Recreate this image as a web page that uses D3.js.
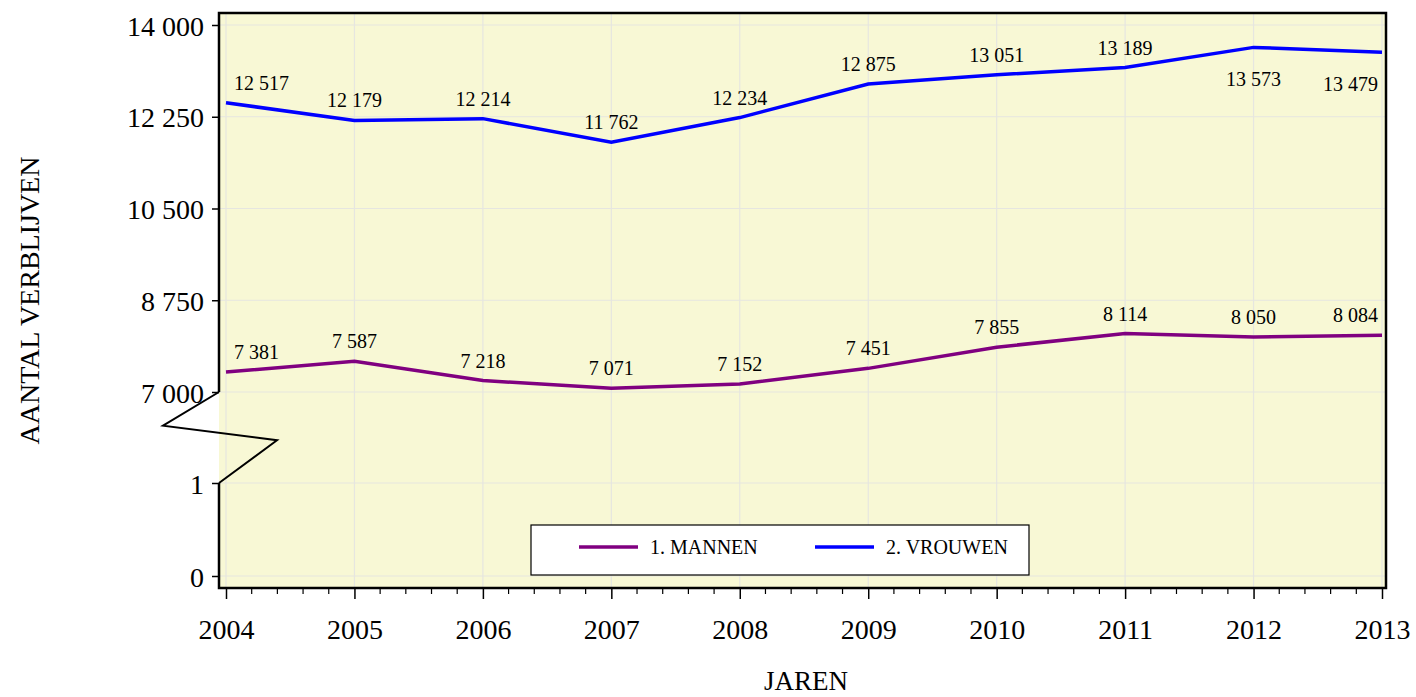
<!DOCTYPE html>
<html>
<head>
<meta charset="utf-8">
<script src="https://cdn.jsdelivr.net/npm/d3@7"></script>
<style>
  body { margin: 0; background: #fff; }
  text { font-family: "Palatino Linotype", "Book Antiqua", Palatino, "Liberation Serif", serif; fill: #000; }
</style>
</head>
<body>
<div id="chart"></div>
<script>
var years = [2004, 2005, 2006, 2007, 2008, 2009, 2010, 2011, 2012, 2013]
var mannen = [7381, 7587, 7218, 7071, 7152, 7451, 7855, 8114, 8050, 8084]
var vrouwen = [12517, 12179, 12214, 11762, 12234, 12875, 13051, 13189, 13573, 13479]
var yTicks = [0, 1, 7000, 8750, 10500, 12250, 14000]
var seriesNames = ["1. MANNEN", "2. VROUWEN"]
var seriesColors = ["#800080", "#0000ff"]

var width = 1416, height = 697
var frame = {left: 219, right: 1386, top: 13, bottom: 588}

var loc = d3.formatLocale({decimal: ",", thousands: "\u00a0", grouping: [3], currency: ["", ""]})
var fmt = loc.format(",d")

var x = d3.scaleLinear().domain([2004, 2013]).range([226, 1382])
// broken axis: 0..1 below the break, 7000..14000 above it
var y = d3.scaleLinear().domain([0, 1, 7000, 14000]).range([576, 483, 392, 25])

var svg = d3.select("#chart").append("svg")
    .attr("width", width).attr("height", height)

svg.append("rect")
    .attr("x", frame.left).attr("y", frame.top)
    .attr("width", frame.right - frame.left).attr("height", frame.bottom - frame.top)
    .attr("fill", "#f8f8d5")

// grid
var grid = svg.append("g").attr("stroke", "#e6e6e0").attr("stroke-width", 1.2)
grid.selectAll(".gx").data(years).enter().append("line")
    .attr("x1", d => x(d)).attr("x2", d => x(d))
    .attr("y1", frame.top).attr("y2", frame.bottom)
grid.selectAll(".gy").data(yTicks).enter().append("line")
    .attr("y1", d => y(d)).attr("y2", d => y(d))
    .attr("x1", frame.left).attr("x2", frame.right)

// frame: top, right, bottom + left axis with break
var frameG = svg.append("g").attr("stroke", "#000").attr("stroke-width", 2.5).attr("fill", "none")
frameG.append("path")
    .attr("d", `M${frame.left},${y(7000)}V${frame.top}H${frame.right}V${frame.bottom}H${frame.left}V${y(1)}`)
var yb0 = y(7000), yb1 = y(1), bh = yb1 - yb0
frameG.append("path").attr("stroke-width", 2)
    .attr("d", `M${frame.left},${yb0}L${frame.left - 56},${yb0 + bh * 0.37}L${frame.left + 58},${yb0 + bh * 0.53}L${frame.left},${yb1}`)

// x axis
var xAxis = d3.axisBottom(x)
    .tickValues(years).tickFormat(d3.format("d")).tickSize(11).tickPadding(20)
var gx = svg.append("g").attr("transform", `translate(0,${frame.bottom})`).call(xAxis)
gx.select(".domain").remove()
gx.selectAll(".tick line").attr("stroke-width", 1.5)
gx.selectAll("text").attr("font-size", 28).attr("fill", "#000")
var minor = d3.range(2004, 2013.01, 0.2).filter(d => Math.abs(d - Math.round(d)) > 0.01)
svg.append("g").selectAll("line").data(minor).enter().append("line")
    .attr("x1", d => x(d)).attr("x2", d => x(d))
    .attr("y1", frame.bottom).attr("y2", frame.bottom + 6)
    .attr("stroke", "#000").attr("stroke-width", 1.2)

// y axis
var yAxis = d3.axisLeft(y).tickValues(yTicks).tickFormat(fmt).tickSize(7).tickPadding(8)
var gy = svg.append("g").attr("transform", `translate(${frame.left},0)`).call(yAxis)
gy.select(".domain").remove()
gy.selectAll(".tick line").attr("stroke-width", 1.5)
gy.selectAll("text").attr("font-size", 28).attr("fill", "#000").attr("dy", "0.36em")

// titles
svg.append("text")
    .attr("transform", `translate(39,${(frame.top + frame.bottom) / 2}) rotate(-90)`)
    .attr("text-anchor", "middle").attr("font-size", 28).text("AANTAL VERBLIJVEN")
svg.append("text").attr("x", 806).attr("y", 690)
    .attr("text-anchor", "middle").attr("font-size", 27).text("JAREN")

// lines
var line = d3.line().x(d => x(d[0])).y(d => y(d[1]))
var series = [mannen, vrouwen]
series.forEach((vals, i) => {
  var pts = years.map((yr, j) => [yr, vals[j]])
  svg.append("path").datum(pts)
      .attr("d", line).attr("fill", "none")
      .attr("stroke", seriesColors[i]).attr("stroke-width", 3.5)
  svg.append("g").selectAll("text").data(pts).enter().append("text")
      .attr("font-size", 20)
      .attr("text-anchor", (d, j) => j === 0 ? "start" : (j === pts.length - 1 ? "end" : "middle"))
      .attr("x", (d, j) => x(d[0]) + (j === 0 ? 8 : (j === pts.length - 1 ? -4 : 0)))
      .attr("y", d => d[1] > 13400 ? y(d[1]) + 39 : y(d[1]) - 13)
      .text(d => fmt(d[1]))
})

// legend
var lg = svg.append("g")
lg.append("rect").attr("x", 531).attr("y", 525).attr("width", 498).attr("height", 50)
    .attr("fill", "#fff").attr("stroke", "#000").attr("stroke-width", 1.2)
var legendX = [579, 815]
seriesNames.forEach((name, i) => {
  lg.append("line").attr("x1", legendX[i]).attr("x2", legendX[i] + 59)
      .attr("y1", 547).attr("y2", 547)
      .attr("stroke", seriesColors[i]).attr("stroke-width", 3.5)
  lg.append("text").attr("x", legendX[i] + 71).attr("y", 554)
      .attr("font-size", 20).text(name)
})
</script>
</body>
</html>
